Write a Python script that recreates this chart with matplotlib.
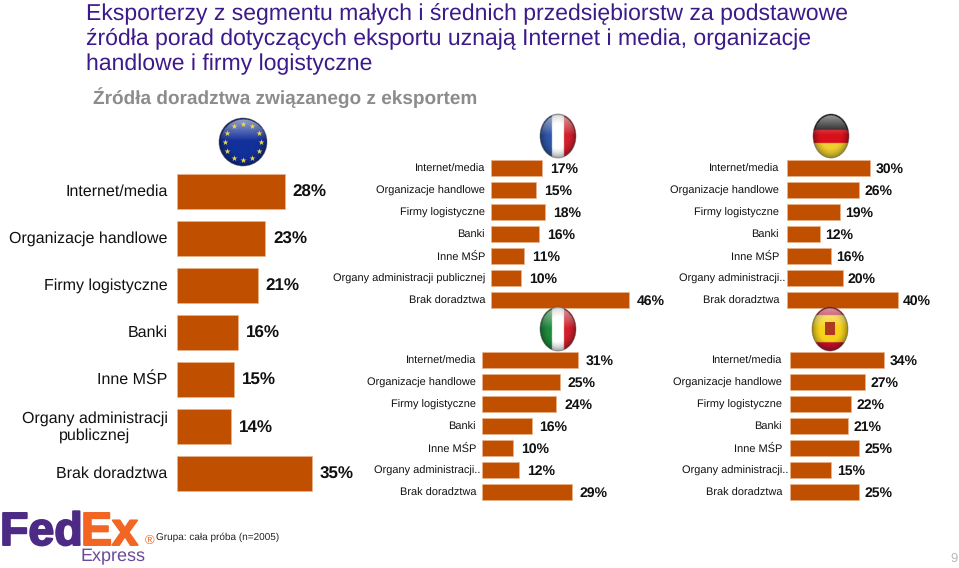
import numpy as np
import matplotlib
matplotlib.use("Agg")
import matplotlib.pyplot as plt
import matplotlib.patheffects as pe
from matplotlib.patches import Ellipse, Rectangle

plt.rcParams['font.family'] = ['Liberation Sans', 'DejaVu Sans']
plt.rcParams['text.hinting'] = 'no_hinting'
plt.rcParams['text.hinting_factor'] = 1

W, H = 959, 568
BAR = '#c05000'

labels_long = ['Internet/media', 'Organizacje handlowe', 'Firmy logistyczne', 'Banki',
               'Inne MŚP', 'Organy administracji publicznej', 'Brak doradztwa']
labels_main = ['Internet/media', 'Organizacje handlowe', 'Firmy logistyczne', 'Banki',
               'Inne MŚP', 'Organy administracji\npublicznej', 'Brak doradztwa']
labels_short = ['Internet/media', 'Organizacje handlowe', 'Firmy logistyczne', 'Banki',
                'Inne MŚP', 'Organy administracji..', 'Brak doradztwa']

eu = [28, 23, 21, 16, 15, 14, 35]
france = [17, 15, 18, 16, 11, 10, 46]
germany = [30, 26, 19, 12, 16, 20, 40]
italy = [31, 25, 24, 16, 10, 12, 29]
spain = [34, 27, 22, 21, 25, 15, 25]

fig = plt.figure(figsize=(W / 100, H / 100), dpi=100, facecolor='white')


def px_axes(x0, y0, x1, y1, **kw):
    # axes from pixel box, y measured from the top
    return fig.add_axes([x0 / W, 1 - y1 / H, (x1 - x0) / W, (y1 - y0) / H], **kw)


def panel(x0, y_first, step, bar_h, scale, vals, labels, lab_size, val_size, lab_gap, val_gap):
    n = len(vals)
    top = y_first - step / 2
    ax = px_axes(x0, top, x0 + 60 * scale, top + n * step)
    ax.set_xlim(0, 60)
    ax.set_ylim(n - 0.5, -0.5)
    ax.axis('off')
    ax.patch.set_alpha(0)
    ax.barh(range(n), vals, height=bar_h / step, color=BAR, edgecolor='#e8b48c', linewidth=0.5)
    for i, (v, lab) in enumerate(zip(vals, labels)):
        gap = 1.5 if lab.endswith('..') else lab_gap
        ax.annotate(lab, (0, i), xytext=(-gap * 0.72, -0.7), textcoords='offset points',
                    ha='right', va='center', fontsize=lab_size, color='#111111',
                    multialignment='center', annotation_clip=False)
        ax.annotate(f'{v}%', (v, i), xytext=(val_gap * 0.72, -1.1), textcoords='offset points',
                    ha='left', va='center', fontsize=val_size, fontweight='bold',
                    color='#111111', annotation_clip=False)


def flag(cx, cy, rx, ry, stripes, vertical=True):
    ax = px_axes(cx - rx - 1, cy - ry - 1, cx + rx + 1, cy + ry + 1)
    ax.axis('off')
    ax.patch.set_alpha(0)
    n = 120
    img = np.zeros((n, n, 3))
    cols = [matplotlib.colors.to_rgb(c) for c in stripes[0]]
    edges = np.cumsum(stripes[1])
    u = np.linspace(0, 1, n)
    for k in range(n):
        idx = min(np.searchsorted(edges, u[k]), len(cols) - 1)
        if vertical:
            img[:, k] = cols[idx]
        else:
            img[k, :] = cols[idx]
    # sphere shading and gloss on the upper half
    xx, yy = np.meshgrid(np.linspace(-1, 1, n), np.linspace(-1, 1, n))
    rr = np.sqrt(xx ** 2 + yy ** 2)
    shade = np.clip(1.08 - 0.45 * rr ** 3, 0, 1)[..., None]
    gloss = (np.clip((-yy - 0.05) / 0.95, 0, 1) * 0.6 * (rr < 0.95))[..., None]
    img = img * shade
    img = img * (1 - gloss) + gloss
    extent = (cx - rx, cx + rx, cy + ry, cy - ry)
    im = ax.imshow(img, extent=extent, aspect='auto', interpolation='bilinear')
    clip = Ellipse((cx, cy), 2 * rx, 2 * ry, transform=ax.transData)
    im.set_clip_path(clip)
    ax.add_patch(Ellipse((cx, cy), 2 * rx, 2 * ry, fill=False, ec='#55555588', lw=0.6))
    ax.set_xlim(cx - rx - 1, cx + rx + 1)
    ax.set_ylim(cy + ry + 1, cy - ry - 1)
    return ax


# titles
for y, line in zip([14, 39, 64],
                   ['Eksporterzy z segmentu małych i średnich przedsiębiorstw za podstawowe',
                    'źródła porad dotyczących eksportu uznają Internet i media, organizacje',
                    'handlowe i firmy logistyczne']):
    fig.text(86 / W, 1 - y / H, line, fontsize=16.85, color='#3d1a8a', ha='left', va='center')
fig.text(93 / W, 1 - 98 / H, 'Źródła doradztwa związanego z eksportem', fontsize=13.33,
         fontweight='bold', color='#8c8c8c', ha='left', va='center')

# bars
panel(176.5, 191, 47, 35, 3.86, eu, labels_main, 11.2, 12.3, 9, 8)
panel(491, 168, 22, 16, 3.0, france, labels_long, 8.0, 10, 6, 8)
panel(787, 168, 22, 16, 2.78, germany, labels_short, 8.0, 10, 8, 5)
panel(482, 360, 22, 16, 3.1, italy, labels_short, 8.0, 10, 6, 8)
panel(790, 360, 22, 16, 2.76, spain, labels_short, 8.0, 10, 8, 6)

# flags
ax = flag(243, 142, 24, 24, (['#12309a'], [1.0]), vertical=False)
ang = np.deg2rad(np.arange(0, 360, 30))
ax.scatter(243 + 18 * np.cos(ang), 142 + 18 * np.sin(ang), marker='*', s=20, color='#e8d84a', linewidths=0)
flag(558, 136, 18, 22, (['#2f55a8', '#ffffff', '#d4202c'], [0.33, 0.34, 0.33]))
flag(831, 136, 18, 22, (['#111111', '#d8101c', '#f0d030'], [0.36, 0.30, 0.34]), vertical=False)
flag(558, 329, 18, 22, (['#1f8a3c', '#ffffff', '#d4202c'], [0.33, 0.34, 0.33]))
ax = flag(830, 329, 18, 22, (['#c8102e', '#f6d21a', '#c8102e'], [0.18, 0.62, 0.20]), vertical=False)
ax.add_patch(Rectangle((825, 322), 10, 13, color='#b03a20', lw=0))

# logo and footer
thick = [pe.withStroke(linewidth=1.4, foreground='#4d2a84')]
fig.text(0 / W, 1 - 545 / H, 'Fed', fontsize=33.5, fontweight='bold', color='#4d2a84',
         ha='left', va='baseline', path_effects=thick)
thick = [pe.withStroke(linewidth=1.4, foreground='#f26522')]
fig.text(81 / W, 1 - 545 / H, 'Ex', fontsize=33.5, fontweight='bold', color='#f26522',
         ha='left', va='baseline', path_effects=thick)
fig.text(81 / W, 1 - 561 / H, 'Express', fontsize=13.2, color='#6a4a9a', ha='left', va='baseline')
fig.text(150 / W, 1 - 541 / H, '®', fontsize=9, color='#f26522', ha='center', va='center')
fig.text(156 / W, 1 - 537 / H, 'Grupa: cała próba (n=2005)', fontsize=7.4, color='#222222', ha='left', va='center')
fig.text(954 / W, 1 - 559 / H, '9', fontsize=9, color='#b8b8b8', ha='center', va='center')

fig.savefig('out.png', dpi=100, facecolor='white')
